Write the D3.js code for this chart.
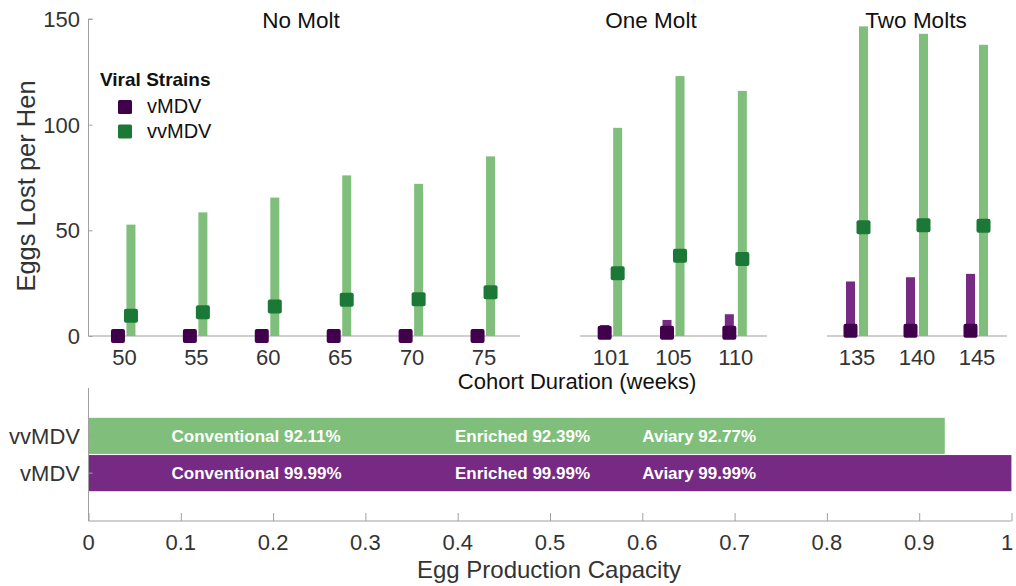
<!DOCTYPE html>
<html><head><meta charset="utf-8">
<script src="https://cdn.jsdelivr.net/npm/d3@7"></script>
<style>
body{margin:0;background:#fff;}
svg{display:block;font-family:"Liberation Sans",Arial,Helvetica,sans-serif;}
</style></head>
<body>
<svg id="c" width="1016" height="586"></svg>
<script>
// ---------- data ----------
const moltGroups = ["No Molt", "One Molt", "Two Molts"];
const cohortWeeks = [50, 55, 60, 65, 70, 75, 101, 105, 110, 135, 140, 145];
const cohortGroup = ["No Molt","No Molt","No Molt","No Molt","No Molt","No Molt",
                     "One Molt","One Molt","One Molt","Two Molts","Two Molts","Two Molts"];
const vMDVmean  = [0, 0, 0, 0, 0, 0, 1.5, 1.5, 1.5, 2.5, 2.5, 2.5];
const vMDVmax   = [0, 0, 0, 0, 0, 0, 5.2, 7.6, 10.3, 25.8, 27.8, 29.4];
const vvMDVmean = [9.6, 11.2, 13.9, 17.1, 17.4, 20.7, 29.7, 38, 36.4, 51.4, 52.4, 52.2];
const vvMDVmax  = [52.7, 58.5, 65.5, 76, 72, 85, 98.5, 123, 116, 146.5, 143, 137.8];
const eggTicks  = [0, 50, 100, 150];

const strains      = ["vvMDV", "vMDV"];
const capacity     = [0.9277, 0.9999];
const capHousing   = ["Conventional", "Enriched", "Aviary"];
const capPercent   = [["92.11%", "92.39%", "92.77%"], ["99.99%", "99.99%", "99.99%"]];
const capTicks     = [0, 0.1, 0.2, 0.3, 0.4, 0.5, 0.6, 0.7, 0.8, 0.9, 1];

// ---------- style / layout ----------
const C = {barG:"#7fbf7b", barP:"#762a83", mkG:"#1b7837", mkP:"#40004b",
           axis:"#a0a0a0", tick:"#333", title:"#111"};
const panelLayout = {
  "No Molt":   {x0: 88.5, x1: 520, titleX: 301},
  "One Molt":  {x0: 580,  x1: 767, titleX: 651},
  "Two Molts": {x0: 827,  x1: 1007, titleX: 916}
};
const labelAt = [0.09, 0.397, 0.6];   // label anchors in capacity units

const svg = d3.select("#c");

// ---------- top chart ----------
const y = d3.scaleLinear().domain([0, 150]).range([336, 19]);

const gy = svg.append("g").attr("transform","translate(88.5,0)")
  .call(d3.axisRight(y).tickValues(eggTicks).tickSize(4).tickFormat(""));
gy.select(".domain").attr("stroke", C.axis).attr("d", `M4,${y(150)}H0V${y(0)}`);
gy.selectAll(".tick line").attr("stroke", C.axis);
svg.append("g").selectAll("text").data(eggTicks).join("text")
  .attr("x", 80).attr("y", d => y(d)).attr("dy", "0.36em")
  .attr("text-anchor", "end").attr("font-size", 22).attr("fill", C.tick)
  .text(d => d);

svg.append("text").attr("transform", `translate(35,186) rotate(-90)`)
  .attr("text-anchor","middle").attr("font-size", 25.5).attr("fill", C.tick)
  .text("Eggs Lost per Hen");

const rows = cohortWeeks.map((w, i) => ({w, g: cohortGroup[i], pm: vMDVmean[i], px: vMDVmax[i], gm: vvMDVmean[i], gx: vvMDVmax[i]}));
const off = 6.5, bw = 9, ms = 14;

moltGroups.forEach(grp => {
  const L = panelLayout[grp];
  const data = rows.filter(r => r.g === grp);
  const x = d3.scalePoint().domain(data.map(d => d.w)).range([L.x0, L.x1]).padding(0.5);
  const p = svg.append("g");
  p.append("line").attr("x1", L.x0).attr("x2", L.x1).attr("y1", y(0)).attr("y2", y(0))
    .attr("stroke", C.axis).attr("stroke-width", 1.2);
  // bars
  p.selectAll(".pb").data(data).join("rect")
    .attr("x", d => x(d.w) - off - bw/2).attr("width", bw)
    .attr("y", d => y(d.px)).attr("height", d => y(0) - y(d.px)).attr("fill", C.barP);
  p.selectAll(".gb").data(data).join("rect")
    .attr("x", d => x(d.w) + off - bw/2).attr("width", bw)
    .attr("y", d => y(d.gx)).attr("height", d => y(0) - y(d.gx)).attr("fill", C.barG);
  // markers
  p.selectAll(".pm").data(data).join("rect")
    .attr("x", d => x(d.w) - off - ms/2).attr("y", d => y(d.pm) - ms/2)
    .attr("width", ms).attr("height", ms).attr("rx", 2).attr("fill", C.mkP);
  p.selectAll(".gm").data(data).join("rect")
    .attr("x", d => x(d.w) + off - ms/2).attr("y", d => y(d.gm) - ms/2)
    .attr("width", ms).attr("height", ms).attr("rx", 2).attr("fill", C.mkG);
  // tick labels
  p.selectAll(".tl").data(data).join("text")
    .attr("x", d => x(d.w)).attr("y", 365).attr("text-anchor","middle")
    .attr("font-size", 22).attr("fill", C.tick).text(d => d.w);
  // title
  p.append("text").attr("x", L.titleX).attr("y", 28).attr("text-anchor","middle")
    .attr("font-size", 22.5).attr("fill", C.title).text(grp);
});

svg.append("text").attr("x", 577).attr("y", 389).attr("text-anchor","middle")
  .attr("font-size", 22).attr("fill", C.title).text("Cohort Duration (weeks)");

// legend
const lg = svg.append("g");
lg.append("text").attr("x", 100).attr("y", 86).attr("font-size", 19).attr("font-weight","bold")
  .attr("fill", C.title).text("Viral Strains");
[["vMDV", C.mkP], ["vvMDV", C.mkG]].forEach(([t, col], i) => {
  lg.append("rect").attr("x", 118).attr("y", 100 + i*24.5).attr("width", 14).attr("height", 14)
    .attr("rx", 1.5).attr("fill", col);
  lg.append("text").attr("x", 147).attr("y", 113 + i*24.5).attr("font-size", 20)
    .attr("fill", C.title).text(t);
});

// ---------- bottom chart ----------
const xb = d3.scaleLinear().domain([0, 1]).range([88.5, 1011.5]);
const yb = d3.scaleBand().domain(strains).range([388, 521]).paddingInner(0.03).paddingOuter(0.8);

const bars = strains.map((s, i) => ({s, v: capacity[i], i}));
svg.append("g").selectAll("rect").data(bars).join("rect")
  .attr("x", xb(0)).attr("y", d => yb(d.s)).attr("width", d => xb(d.v) - xb(0))
  .attr("height", yb.bandwidth()).attr("fill", d => d.s === "vMDV" ? C.barP : C.barG);

const gl = svg.append("g");
bars.forEach(b => {
  capHousing.forEach((h, j) => {
    gl.append("text").attr("x", xb(labelAt[j])).attr("y", yb(b.s) + yb.bandwidth()/2)
      .attr("dy", "0.36em").attr("font-size", 17).attr("font-weight", "bold").attr("fill", "#fff")
      .text(h + " " + capPercent[b.i][j]);
  });
});

const gxb = svg.append("g").attr("transform", "translate(0,521)")
  .call(d3.axisTop(xb).tickValues(capTicks).tickSize(8).tickFormat(""));
gxb.select(".domain").attr("stroke", C.axis).attr("d", `M${xb(0)},0H${xb(1)}`);
gxb.selectAll(".tick line").attr("stroke", C.axis);
svg.append("g").selectAll("text").data(capTicks).join("text")
  .attr("x", d => Math.min(xb(d), 1007)).attr("y", 550).attr("text-anchor","middle")
  .attr("font-size", 22).attr("fill", C.tick).text(d => d3.format("~g")(d));

const gyb = svg.append("g").attr("transform", "translate(88.5,0)")
  .call(d3.axisRight(yb).tickSize(4).tickFormat(""));
gyb.select(".domain").attr("stroke", C.axis).attr("d", "M0,388V521");
gyb.selectAll(".tick line").attr("stroke", C.axis);
svg.append("g").selectAll("text").data(strains).join("text")
  .attr("x", 80).attr("y", d => yb(d) + yb.bandwidth()/2).attr("dy", "0.36em")
  .attr("text-anchor", "end").attr("font-size", 22).attr("fill", C.tick).text(d => d);

svg.append("text").attr("x", 549).attr("y", 578).attr("text-anchor","middle")
  .attr("font-size", 24).attr("fill", C.tick).text("Egg Production Capacity");
</script>
</body></html>
